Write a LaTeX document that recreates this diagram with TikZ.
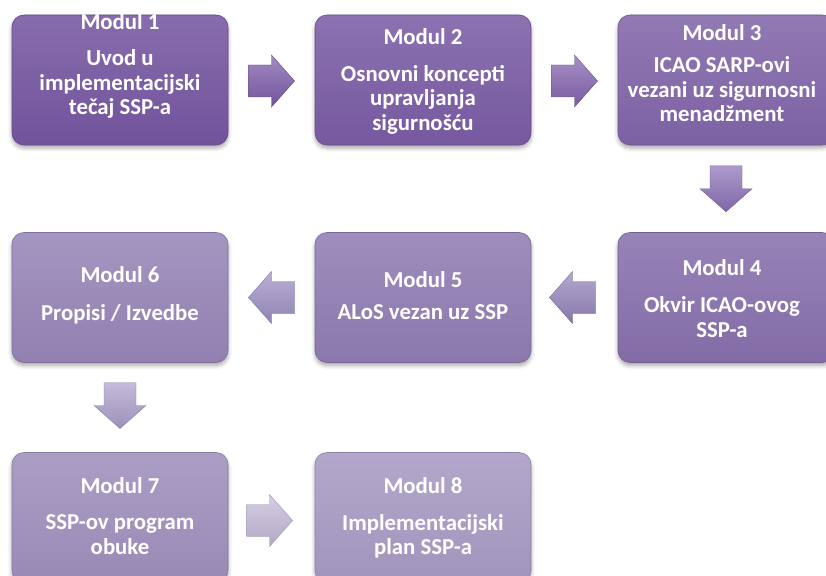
\documentclass[tikz,border=0pt]{standalone}
\usepackage{fontspec}
\setmainfont{Carlito}
\usetikzlibrary{shadows.blur}

\definecolor{bA}{HTML}{7455A0}
\definecolor{bB}{HTML}{795BA4}
\definecolor{bC}{HTML}{8064A8}
\definecolor{bD}{HTML}{876FAC}
\definecolor{bE}{HTML}{8F7BB2}
\definecolor{bF}{HTML}{9684B6}
\definecolor{bG}{HTML}{9D8EBB}
\definecolor{bH}{HTML}{A699C2}
\definecolor{aA}{HTML}{7A5AA8}
\definecolor{aB}{HTML}{8262AE}
\definecolor{aC}{HTML}{8A6FB5}
\definecolor{aD}{HTML}{9282BA}
\definecolor{aE}{HTML}{9C8EC2}
\definecolor{aF}{HTML}{AA9ECA}
\definecolor{aG}{HTML}{C2B8D8}

\tikzset{
  modbox/.style={rounded corners=12pt, minimum width=216pt, minimum height=130pt,
    inner sep=0pt, top color=#1!86!white, bottom color=#1!97!black, draw=#1!85!black, line width=0.6pt,
    blur shadow={shadow xshift=0pt, shadow yshift=-3pt, shadow blur radius=4pt, shadow opacity=35}},
  modtxt/.style={text=white, align=center, inner sep=0pt,
    font=\fontsize{22.8}{24.5}\selectfont\bfseries},
  blockarrow/.pic={
    \path[pic actions] (-23,-16) -- (0,-16) -- (0,-26) -- (23,0) -- (0,26) -- (0,16) -- (-23,16) -- cycle;
  },
  arr/.style={top color=#1!70!white, bottom color=#1!92!black, draw=#1!80!black, line width=0.4pt,
    blur shadow={shadow xshift=0pt, shadow yshift=-2pt, shadow blur radius=2pt, shadow opacity=30}}
}

\begin{document}
\begin{tikzpicture}[x=1pt, y=-1pt]
\useasboundingbox (0,0) rectangle (826,575);

% boxes
\node[modbox=bA] (b1) at (120,80) {};
\node[modbox=bB] (b2) at (423,80) {};
\node[modbox=bC] (b3) at (726,80) {};
\node[modbox=bD] (b4) at (726,297.5) {};
\node[modbox=bE] (b5) at (423,297.5) {};
\node[modbox=bF] (b6) at (120,297.5) {};
\node[modbox=bG] (b7) at (120,517.5) {};
\node[modbox=bH] (b8) at (423,517.5) {};

% texts
\node[modtxt] (t1) at ([yshift=14pt]b1.center) {Modul 1\\[12pt]Uvod u\\implementacijski\\tečaj SSP-a};
\node[modtxt] (t2) at ([yshift=-1.5pt]b2.center) {Modul 2\\[12pt]Osnovni koncepti\\upravljanja\\sigurnošću};
\node[modtxt] (t3) at ([xshift=-4pt,yshift=7pt]b3.center) {Modul 3\\[8pt]ICAO SARP-ovi\\vezani uz sigurnosni\\menadžment};
\node[modtxt] (t4) at ([xshift=-4pt,yshift=-1pt]b4.center) {Modul 4\\[13pt]Okvir ICAO-ovog\\SSP-a};
\node[modtxt] (t5) at ([yshift=2pt]b5.center) {Modul 5\\[7pt]ALoS vezan uz SSP};
\node[modtxt] (t6) at ([yshift=2pt]b6.center) {Modul 6\\[14pt]Propisi / Izvedbe};
\node[modtxt] (t7) at ([yshift=1.5pt]b7.center) {Modul 7\\[12pt]SSP-ov program\\obuke};
\node[modtxt] (t8) at ([yshift=-0.5pt]b8.center) {Modul 8\\[12pt]Implementacijski\\plan SSP-a};

% arrow positions
\path (b1.east) -- (b2.west) coordinate[midway] (m12);
\path (b2.east) -- (b3.west) coordinate[midway] (m23);
\path (b3.south) -- (b4.north) coordinate[midway] (m34);
\path (b4.west) -- (b5.east) coordinate[midway] (m45);
\path (b5.west) -- (b6.east) coordinate[midway] (m56);
\path (b6.south) -- (b7.north) coordinate[midway] (m67);
\path (b7.east) -- (b8.west) coordinate[midway] (m78);

\pic[arr=aA] (a12) at ([yshift=-1pt]m12) {blockarrow};
\pic[arr=aB] (a23) at ([yshift=-1pt]m23) {blockarrow};
\pic[arr=aC, rotate=-90] (a34) at (m34) {blockarrow};
\pic[arr=aD, rotate=180] (a45) at ([xshift=-2pt]m45) {blockarrow};
\pic[arr=aE, rotate=180] (a56) at (m56) {blockarrow};
\pic[arr=aF, rotate=-90] (a67) at ([yshift=2pt]m67) {blockarrow};
\pic[arr=aG] (a78) at ([xshift=-2pt,yshift=-3pt]m78) {blockarrow};
\end{tikzpicture}
\end{document}
